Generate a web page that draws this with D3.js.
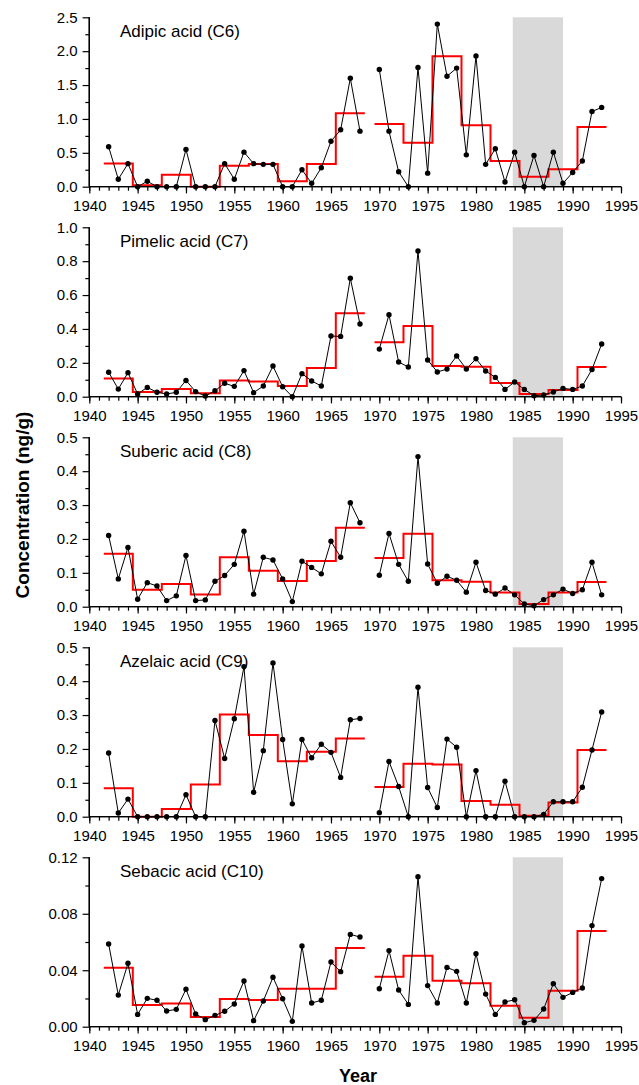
<!DOCTYPE html>
<html>
<head>
<meta charset="utf-8">
<script src="https://cdn.jsdelivr.net/npm/d3@7"></script>
<style>
  html, body { margin: 0; padding: 0; background: #fff; }
  svg { display: block; font-family: "Liberation Sans", Arial, sans-serif; }
</style>
</head>
<body>
<svg id="chart" width="639" height="1085"></svg>
<script>
// ---------- DATA ----------
const yearsEarly = [1942,1943,1944,1945,1946,1947,1948,1949,1950,1951,1952,1953,1954,1955,1956,1957,1958,1959,1960,1961,1962,1963,1964,1965,1966,1967,1968];
const yearsLate  = [1970,1971,1972,1973,1974,1975,1976,1977,1978,1979,1980,1981,1982,1983,1984,1985,1986,1987,1988,1989,1990,1991,1992,1993];

// 3-year mean bins (left edges) and their closing edges
const binsEarly = [1941.5,1944.5,1947.5,1950.5,1953.5,1956.5,1959.5,1962.5,1965.5];
const binsEarlyEnd = 1968.5;
const binsLate  = [1969.5,1972.5,1975.5,1978.5,1981.5,1984.5,1987.5,1990.5];
const binsLateEnd = 1993.5;

const acidNames = ["Adipic acid (C6)","Pimelic acid (C7)","Suberic acid (C8)","Azelaic acid (C9)","Sebacic acid (C10)"];

const adipicEarly = [0.59,0.11,0.34,0,0.08,0,0,0,0.55,0,0,0,0.34,0.11,0.51,0.34,0.33,0.33,0,0,0.25,0.05,0.28,0.67,0.84,1.60,0.82];
const adipicLate  = [1.73,0.82,0.22,0,1.76,0.20,2.40,1.63,1.75,0.47,1.93,0.33,0.56,0.07,0.51,0,0.46,0,0.51,0.05,0.21,0.38,1.11,1.17];
const adipicMeanEarly = [0.344,0.02,0.177,0,0.31,0.335,0.079,0.335,1.083];
const adipicMeanLate  = [0.925,0.65,1.924,0.906,0.379,0.148,0.256,0.881];

const pimelicEarly = [0.144,0.045,0.142,0.016,0.055,0.026,0.016,0.026,0.096,0.03,0.004,0.035,0.079,0.061,0.154,0.024,0.063,0.181,0.059,0,0.136,0.093,0.063,0.358,0.356,0.699,0.429];
const pimelicLate  = [0.281,0.484,0.205,0.175,0.86,0.217,0.146,0.163,0.24,0.163,0.224,0.152,0.114,0.043,0.087,0.043,0.006,0.01,0.028,0.049,0.043,0.063,0.161,0.311];
const pimelicMeanEarly = [0.108,0.028,0.045,0.02,0.096,0.089,0.063,0.169,0.492];
const pimelicMeanLate  = [0.321,0.417,0.181,0.177,0.081,0.016,0.039,0.175];

const subericEarly = [0.210,0.082,0.175,0.022,0.071,0.061,0.018,0.032,0.151,0.018,0.020,0.075,0.092,0.125,0.223,0.037,0.146,0.138,0.082,0.015,0.134,0.116,0.097,0.193,0.146,0.307,0.248];
const subericLate  = [0.093,0.216,0.125,0.075,0.443,0.126,0.069,0.090,0.078,0.043,0.131,0.048,0.037,0.055,0.035,0.008,0.003,0.021,0.035,0.052,0.039,0.050,0.131,0.035];
const subericMeanEarly = [0.156,0.05,0.067,0.036,0.146,0.106,0.076,0.135,0.233];
const subericMeanLate  = [0.144,0.215,0.078,0.074,0.042,0.008,0.042,0.073];

const azelaicEarly = [0.188,0.011,0.052,0,0,0,0,0,0.065,0,0,0.284,0.172,0.289,0.443,0.072,0.195,0.454,0.228,0.038,0.228,0.174,0.214,0.19,0.116,0.286,0.29];
const azelaicLate  = [0.012,0.163,0.089,0,0.382,0.086,0.027,0.229,0.205,0,0.136,0,0,0.105,0,0,0,0.007,0.044,0.044,0.044,0.087,0.197,0.309];
const azelaicMeanEarly = [0.084,0,0.023,0.095,0.302,0.241,0.164,0.192,0.231];
const azelaicMeanLate  = [0.088,0.156,0.154,0.046,0.035,0.003,0.042,0.197];

const sebacicEarly = [0.0586,0.0224,0.0449,0.0087,0.0201,0.0187,0.0111,0.0123,0.0265,0.009,0.005,0.008,0.0109,0.0161,0.0324,0.0043,0.0182,0.035,0.0198,0.0038,0.0572,0.0168,0.0187,0.0458,0.039,0.0654,0.0635];
const sebacicLate  = [0.0269,0.0539,0.026,0.0158,0.1063,0.0291,0.0168,0.042,0.0392,0.0168,0.0517,0.0231,0.0087,0.0175,0.0191,0.0028,0.0045,0.0125,0.0305,0.0208,0.0243,0.0274,0.0716,0.1049];
const sebacicMeanEarly = [0.0418,0.0154,0.0165,0.0069,0.0196,0.0189,0.0269,0.0269,0.0557];
const sebacicMeanLate  = [0.0354,0.0503,0.0326,0.0307,0.0149,0.0064,0.0255,0.0678];

// axis ticks
const xMajorTicks = [1940,1945,1950,1955,1960,1965,1970,1975,1980,1985,1990,1995];
const xMinorTicks = d3.range(1940, 1996, 1);
const yMax = [2.5, 1.0, 0.5, 0.5, 0.12];
const yMajorTicks = [
  [0,0.5,1.0,1.5,2.0,2.5],
  [0,0.2,0.4,0.6,0.8,1.0],
  [0,0.1,0.2,0.3,0.4,0.5],
  [0,0.1,0.2,0.3,0.4,0.5],
  [0,0.04,0.08,0.12]
];
const yMinorTicks = [
  [0.25,0.75,1.25,1.75,2.25],
  [0.1,0.3,0.5,0.7,0.9],
  [0.05,0.15,0.25,0.35,0.45],
  [0.05,0.15,0.25,0.35,0.45],
  [0.02,0.06,0.10]
];
const yTickFormats = [".1f",".1f",".1f",".1f",".2f"];
const shadeRange = [1983.8, 1989];

const panels = [
  {name: acidNames[0], early: adipicEarly,  late: adipicLate,  mE: adipicMeanEarly,  mL: adipicMeanLate},
  {name: acidNames[1], early: pimelicEarly, late: pimelicLate, mE: pimelicMeanEarly, mL: pimelicMeanLate},
  {name: acidNames[2], early: subericEarly, late: subericLate, mE: subericMeanEarly, mL: subericMeanLate},
  {name: acidNames[3], early: azelaicEarly, late: azelaicLate, mE: azelaicMeanEarly, mL: azelaicMeanLate},
  {name: acidNames[4], early: sebacicEarly, late: sebacicLate, mE: sebacicMeanEarly, mL: sebacicMeanLate}
];

// ---------- LAYOUT ----------
const svg = d3.select("#chart");
const xL = 89.3, xR = 621;
const panelTop0 = 17.3, panelStep = 210, panelH = 169.4;
const x = d3.scaleLinear().domain([1940, 1995]).range([xL, xR]);
const fontTick = "15px";

panels.forEach((p, i) => {
  const top = panelTop0 + i * panelStep;
  const bottom = top + panelH;
  const y = d3.scaleLinear().domain([0, yMax[i]]).range([bottom, top]);
  const g = svg.append("g");

  // shaded period
  g.append("rect")
    .attr("x", x(shadeRange[0])).attr("y", top)
    .attr("width", x(shadeRange[1]) - x(shadeRange[0]))
    .attr("height", bottom - top)
    .attr("fill", "#d9d9d9");

  // step (3-yr mean) lines
  const stepLine = d3.line().x(d => x(d[0])).y(d => y(d[1])).curve(d3.curveStepAfter);
  const mkSteps = (bins, end, vals) => {
    const pts = bins.map((b, k) => [b, vals[k]]);
    pts.push([end, vals[vals.length - 1]]);
    return pts;
  };
  [[binsEarly, binsEarlyEnd, p.mE], [binsLate, binsLateEnd, p.mL]].forEach(([b, e, v]) => {
    g.append("path").datum(mkSteps(b, e, v))
      .attr("d", stepLine).attr("fill", "none")
      .attr("stroke", "#ff0000").attr("stroke-width", 2);
  });

  // annual data lines + dots
  const line = d3.line().x(d => x(d[0])).y(d => y(d[1]));
  [[yearsEarly, p.early], [yearsLate, p.late]].forEach(([yrs, vals]) => {
    const pts = yrs.map((yr, k) => [yr, vals[k]]);
    g.append("path").datum(pts).attr("d", line)
      .attr("fill", "none").attr("stroke", "#000").attr("stroke-width", 1);
    g.selectAll(null).data(pts).enter().append("circle")
      .attr("cx", d => x(d[0])).attr("cy", d => y(d[1]))
      .attr("r", 2.7).attr("fill", "#000");
  });

  // x axis
  const xAxisMinor = d3.axisBottom(x).tickValues(xMinorTicks).tickSize(4).tickFormat("");
  const xAxisMajor = d3.axisBottom(x).tickValues(xMajorTicks).tickSize(6.7).tickPadding(6.6).tickFormat(d3.format("d"));
  const gxm = g.append("g").attr("transform", `translate(0,${bottom})`).call(xAxisMinor);
  const gx = g.append("g").attr("transform", `translate(0,${bottom})`).call(xAxisMajor);
  [gxm, gx].forEach(a => {
    a.select(".domain").attr("stroke-width", 1.3).attr("d", `M${xL},0H${xR}`);
    a.selectAll("line").attr("stroke-width", 1.2);
  });
  gx.selectAll("text").attr("font-size", fontTick).attr("font-family", "Liberation Sans, Arial, sans-serif").attr("fill", "#000");

  // y axis
  const yAxisMinor = d3.axisLeft(y).tickValues(yMinorTicks[i]).tickSize(4).tickFormat("");
  const yAxisMajor = d3.axisLeft(y).tickValues(yMajorTicks[i]).tickSize(6.7).tickPadding(4.9).tickFormat(d3.format(yTickFormats[i]));
  const gym = g.append("g").attr("transform", `translate(${xL},0)`).call(yAxisMinor);
  const gy = g.append("g").attr("transform", `translate(${xL},0)`).call(yAxisMajor);
  [gym, gy].forEach(a => {
    a.select(".domain").attr("stroke-width", 1.3).attr("d", `M0,${bottom}V${top}`);
    a.selectAll("line").attr("stroke-width", 1.2);
  });
  gy.selectAll("text").attr("font-size", fontTick).attr("font-family", "Liberation Sans, Arial, sans-serif").attr("fill", "#000");

  // panel title
  g.append("text").attr("x", 120).attr("y", top + 20)
    .attr("font-size", "17px").attr("fill", "#000").text(p.name);
});

// axis titles
svg.append("text")
  .attr("transform", "translate(29,505) rotate(-90)")
  .attr("text-anchor", "middle").attr("font-weight", "bold").attr("font-size", "19px")
  .text("Concentration (ng/g)");
svg.append("text")
  .attr("x", 358).attr("y", 1082)
  .attr("text-anchor", "middle").attr("font-weight", "bold").attr("font-size", "18px")
  .text("Year");
</script>
</body>
</html>
